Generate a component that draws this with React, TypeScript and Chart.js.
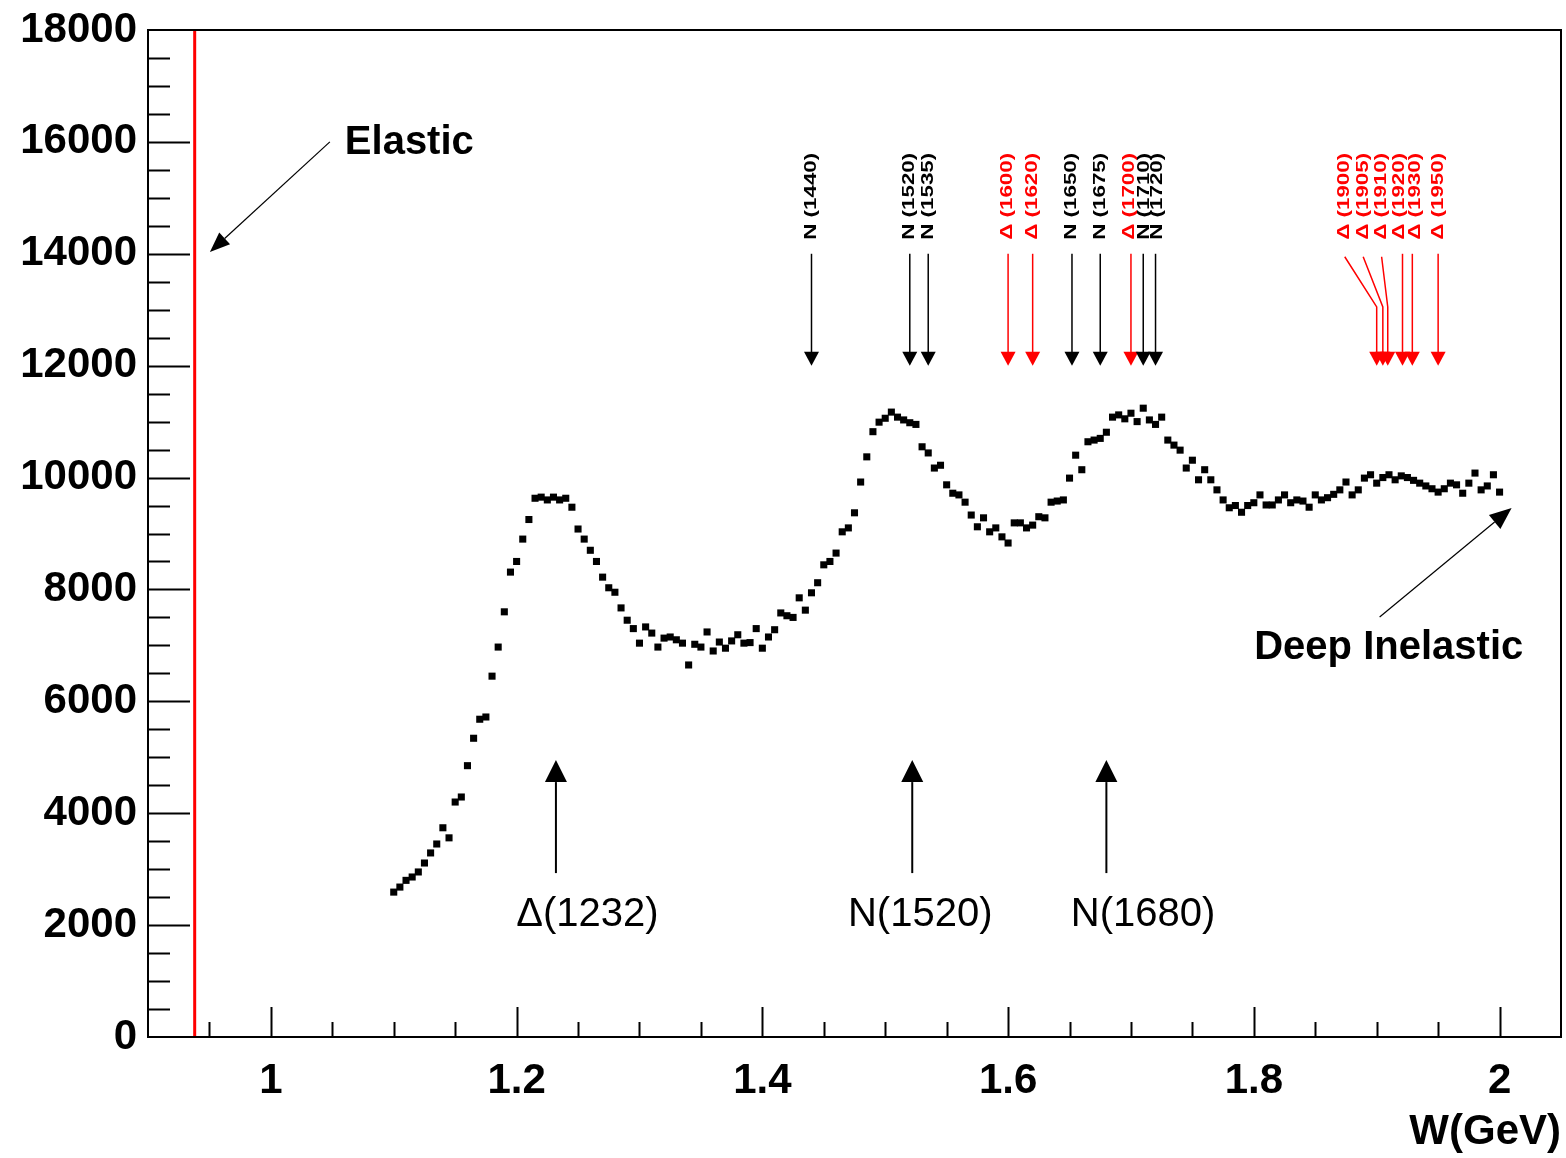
import React, { useEffect, useRef } from "react";
import { Chart, registerables } from "chart.js";

Chart.register(...registerables);

const W_GEV = [
  1.100, 1.105, 1.110, 1.115, 1.120, 1.125, 1.130, 1.135, 1.140, 1.145,
  1.150, 1.155, 1.160, 1.165, 1.170, 1.175, 1.180, 1.185, 1.190, 1.195,
  1.200, 1.205, 1.210, 1.215, 1.220, 1.225, 1.230, 1.235, 1.240, 1.245,
  1.250, 1.255, 1.260, 1.265, 1.270, 1.275, 1.280, 1.285, 1.290, 1.295,
  1.300, 1.305, 1.310, 1.315, 1.320, 1.325, 1.330, 1.335, 1.340, 1.345,
  1.350, 1.355, 1.360, 1.365, 1.370, 1.375, 1.380, 1.385, 1.390, 1.395,
  1.400, 1.405, 1.410, 1.415, 1.420, 1.425, 1.430, 1.435, 1.440, 1.445,
  1.450, 1.455, 1.460, 1.465, 1.470, 1.475, 1.480, 1.485, 1.490, 1.495,
  1.500, 1.505, 1.510, 1.515, 1.520, 1.525, 1.530, 1.535, 1.540, 1.545,
  1.550, 1.555, 1.560, 1.565, 1.570, 1.575, 1.580, 1.585, 1.590, 1.595,
  1.600, 1.605, 1.610, 1.615, 1.620, 1.625, 1.630, 1.635, 1.640, 1.645,
  1.650, 1.655, 1.660, 1.665, 1.670, 1.675, 1.680, 1.685, 1.690, 1.695,
  1.700, 1.705, 1.710, 1.715, 1.720, 1.725, 1.730, 1.735, 1.740, 1.745,
  1.750, 1.755, 1.760, 1.765, 1.770, 1.775, 1.780, 1.785, 1.790, 1.795,
  1.800, 1.805, 1.810, 1.815, 1.820, 1.825, 1.830, 1.835, 1.840, 1.845,
  1.850, 1.855, 1.860, 1.865, 1.870, 1.875, 1.880, 1.885, 1.890, 1.895,
  1.900, 1.905, 1.910, 1.915, 1.920, 1.925, 1.930, 1.935, 1.940, 1.945,
  1.950, 1.955, 1.960, 1.965, 1.970, 1.975, 1.980, 1.985, 1.990, 1.995,
  2.000,
];

const COUNTS = [
  2590, 2680, 2800, 2860, 2950, 3110, 3290, 3450, 3740, 3560,
  4200, 4290, 4850, 5340, 5680, 5720, 6450, 6970, 7600, 8310,
  8500, 8900, 9250, 9630, 9650, 9600, 9650, 9600, 9630, 9470,
  9080, 8900, 8700, 8500, 8220, 8030, 7950, 7670, 7450, 7300,
  7040, 7330, 7220, 6970, 7130, 7150, 7100, 7040, 6650, 7020,
  6970, 7240, 6900, 7060, 6950, 7080, 7190, 7040, 7050, 7300,
  6950, 7150, 7280, 7580, 7530, 7500, 7850, 7630, 7940, 8120,
  8440, 8500, 8650, 9030, 9100, 9370, 9920, 10370, 10820, 10990,
  11060, 11170, 11080, 11030, 10980, 10950, 10550, 10440, 10170, 10220,
  9870, 9720, 9690, 9560, 9330, 9120, 9280, 9030, 9100, 8940,
  8830, 9190, 9190, 9100, 9150, 9300, 9280, 9560, 9580, 9600,
  9990, 10400, 10140, 10640, 10670, 10700, 10810, 11080, 11120, 11050,
  11150, 11000, 11240, 11030, 10950, 11080, 10670, 10580, 10490, 10170,
  10310, 9960, 10140, 9960, 9780, 9600, 9460, 9500, 9380, 9500,
  9550, 9690, 9510, 9510, 9600, 9690, 9550, 9600, 9580, 9470,
  9690, 9600, 9640, 9700, 9780, 9920, 9690, 9780, 9990, 10050,
  9900, 10000, 10050, 9960, 10030, 10000, 9950, 9900, 9850, 9800,
  9740, 9800, 9900, 9870, 9720, 9900, 10080, 9780, 9850, 10050,
  9740,
];

const X_TICKS = [1, 1.2, 1.4, 1.6, 1.8, 2];
const Y_TICKS = [0, 2000, 4000, 6000, 8000, 10000, 12000, 14000, 16000, 18000];

const ELASTIC_W = 0.938;

const RES_NAMES = [
  "N (1440)", "N (1520)", "N (1535)", "\u0394 (1600)", "\u0394 (1620)",
  "N (1650)", "N (1675)", "\u0394 (1700)", "N (1710)", "N (1720)",
  "\u0394 (1900)", "\u0394 (1905)", "\u0394 (1910)", "\u0394 (1920)", "\u0394 (1930)", "\u0394 (1950)",
];
const RES_W = [1.44, 1.52, 1.535, 1.60, 1.62, 1.652, 1.675, 1.70, 1.71, 1.72, 1.90, 1.905, 1.909, 1.921, 1.929, 1.95];
const RES_LABEL_W = [1.44, 1.52, 1.535, 1.60, 1.62, 1.652, 1.675, 1.699, 1.7115, 1.7215, 1.874, 1.889, 1.904, 1.919, 1.932, 1.95];
const RES_IS_DELTA = [false, false, false, true, true, false, false, true, false, false, true, true, true, true, true, true];

const MAIN_NAMES = ["\u0394(1232)", "N(1520)", "N(1680)"];
const MAIN_W = [1.232, 1.522, 1.68];
const MAIN_LABEL_W = [1.2577, 1.5285, 1.7098];

const FONT = '"Liberation Sans", Arial, Helvetica, sans-serif';

function arrow(ctx: CanvasRenderingContext2D, x1: number, y1: number, x2: number, y2: number,
  headLen: number, headW: number, lw: number, color: string) {
  const ang = Math.atan2(y2 - y1, x2 - x1);
  const bx = x2 - Math.cos(ang) * headLen;
  const by = y2 - Math.sin(ang) * headLen;
  ctx.save();
  ctx.strokeStyle = color;
  ctx.fillStyle = color;
  ctx.lineWidth = lw;
  ctx.beginPath();
  ctx.moveTo(x1, y1);
  ctx.lineTo(bx, by);
  ctx.stroke();
  const px = -Math.sin(ang) * headW / 2;
  const py = Math.cos(ang) * headW / 2;
  ctx.beginPath();
  ctx.moveTo(x2, y2);
  ctx.lineTo(bx + px, by + py);
  ctx.lineTo(bx - px, by - py);
  ctx.closePath();
  ctx.fill();
  ctx.restore();
}

const annotate = {
  id: "annotate",
  beforeDatasetsDraw(chart: any) {
    const { ctx, chartArea: a, scales } = chart;
    const x = scales.x.getPixelForValue(ELASTIC_W);
    ctx.save();
    ctx.strokeStyle = "#ff0000";
    ctx.lineWidth = 3;
    ctx.beginPath();
    ctx.moveTo(x, a.top);
    ctx.lineTo(x, a.bottom);
    ctx.stroke();
    ctx.restore();
  },
  afterDatasetsDraw(chart: any) {
    const { ctx, chartArea: a, scales } = chart;
    const xs = scales.x;
    const ys = scales.y;
    ctx.save();
    // tick marks inside the frame
    ctx.strokeStyle = "#000";
    ctx.lineWidth = 2;
    ctx.beginPath();
    for (let v = 500; v < 18000; v += 500) {
      const y = Math.round(ys.getPixelForValue(v)) + 0.5;
      const len = v % 2000 === 0 ? 42 : 22;
      ctx.moveTo(a.left, y);
      ctx.lineTo(a.left + len, y);
    }
    for (let i = 19; i * 0.05 < 2.049; i++) {
      const v = i * 0.05;
      const x = Math.round(xs.getPixelForValue(v)) + 0.5;
      const len = i % 4 === 0 ? 30 : 15;
      ctx.moveTo(x, a.bottom);
      ctx.lineTo(x, a.bottom - len);
    }
    ctx.stroke();
    // frame
    ctx.lineWidth = 2;
    ctx.strokeRect(a.left, a.top, a.right - a.left, a.bottom - a.top);

    // small resonance arrows and rotated labels
    const yTop = ys.getPixelForValue(14000);
    const yKink = ys.getPixelForValue(13050);
    const yTip = ys.getPixelForValue(12000);
    const yLab = ys.getPixelForValue(14250);
    RES_NAMES.forEach((name, i) => {
      const color = RES_IS_DELTA[i] ? "#ff0000" : "#000000";
      const xa = xs.getPixelForValue(RES_W[i]);
      const xl = xs.getPixelForValue(RES_LABEL_W[i]);
      const bent = Math.abs(xl - xa) > 4;
      ctx.strokeStyle = color;
      ctx.fillStyle = color;
      ctx.lineWidth = 1.5;
      ctx.beginPath();
      if (bent) {
        ctx.moveTo(xl, yTop + 3);
        ctx.lineTo(xa, yKink);
      } else {
        ctx.moveTo(xa, yTop);
      }
      ctx.lineTo(xa, yTip - 12);
      ctx.stroke();
      ctx.beginPath();
      ctx.moveTo(xa, yTip);
      ctx.lineTo(xa - 7.5, yTip - 14);
      ctx.lineTo(xa + 7.5, yTip - 14);
      ctx.closePath();
      ctx.fill();
      ctx.save();
      ctx.translate(xl, yLab);
      ctx.rotate(-Math.PI / 2);
      ctx.font = `bold 16px ${FONT}`;
      const w = ctx.measureText(name).width;
      ctx.scale(87 / w, 1);
      ctx.textAlign = "left";
      ctx.textBaseline = "middle";
      ctx.fillText(name, 0, 0);
      ctx.restore();
    });

    // main resonance arrows
    const yb = ys.getPixelForValue(2930);
    const yt = ys.getPixelForValue(4950);
    const yl = ys.getPixelForValue(2180);
    ctx.font = `40px ${FONT}`;
    ctx.textAlign = "center";
    ctx.textBaseline = "middle";
    MAIN_NAMES.forEach((name, i) => {
      const x = xs.getPixelForValue(MAIN_W[i]);
      arrow(ctx, x, yb, x, yt, 22, 22, 2, "#000");
      ctx.fillStyle = "#000";
      ctx.fillText(name, xs.getPixelForValue(MAIN_LABEL_W[i]), yl);
    });

    // Elastic
    arrow(ctx, xs.getPixelForValue(1.048), ys.getPixelForValue(16000),
      xs.getPixelForValue(0.9504), ys.getPixelForValue(14032), 20, 16, 1.2, "#000");
    ctx.font = `bold 40px ${FONT}`;
    ctx.fillStyle = "#000";
    ctx.textAlign = "left";
    ctx.textBaseline = "middle";
    ctx.fillText("Elastic", xs.getPixelForValue(1.0602), ys.getPixelForValue(15980));

    // Deep Inelastic
    arrow(ctx, xs.getPixelForValue(1.9024), ys.getPixelForValue(7508),
      xs.getPixelForValue(2.0098), ys.getPixelForValue(9456), 22, 18, 1.2, "#000");
    ctx.textAlign = "center";
    ctx.fillText("Deep Inelastic", xs.getPixelForValue(1.9098), ys.getPixelForValue(6953));
    ctx.restore();
  },
};

export default function App() {
  const ref = useRef<HTMLCanvasElement | null>(null);
  useEffect(() => {
    document.body.style.margin = "0";
    if (!ref.current) return;
    const chart = new Chart(ref.current, {
      type: "scatter",
      data: {
        datasets: [
          {
            data: W_GEV.map((w, i) => ({ x: w, y: COUNTS[i] })),
            showLine: false,
            pointStyle: "rect",
            pointRadius: 5,
            pointHoverRadius: 5,
            backgroundColor: "#000",
            borderColor: "#000",
            borderWidth: 0,
          },
        ],
      },
      options: {
        animation: false,
        responsive: false,
        devicePixelRatio: 1,
        events: [],
        layout: { padding: { top: 30, right: 4, left: 0, bottom: 0 } },
        plugins: { legend: { display: false }, tooltip: { enabled: false } },
        scales: {
          x: {
            type: "linear",
            min: 0.9,
            max: 2.05,
            afterBuildTicks: (s: any) => {
              s.ticks = X_TICKS.map((v) => ({ value: v }));
            },
            afterFit: (s: any) => {
              s.height = 121;
            },
            grid: { display: false, drawTicks: false },
            border: { display: false },
            ticks: {
              color: "#000",
              padding: 19,
              maxRotation: 0,
              autoSkip: false,
              font: { family: FONT, size: 42, weight: "bold" },
              callback: (v: any) => String(v),
            },
            title: {
              display: true,
              text: "W(GeV)",
              align: "end",
              color: "#000",
              padding: 0,
              font: { family: FONT, size: 42, weight: "bold" },
            },
          },
          y: {
            type: "linear",
            min: 0,
            max: 18000,
            afterBuildTicks: (s: any) => {
              s.ticks = Y_TICKS.map((v) => ({ value: v }));
            },
            afterFit: (s: any) => {
              s.width = 148;
            },
            grid: { display: false, drawTicks: false },
            border: { display: false },
            ticks: {
              color: "#000",
              padding: 11,
              autoSkip: false,
              font: { family: FONT, size: 42, weight: "bold", lineHeight: 0.8 },
              callback: (v: any) => String(v),
            },
          },
        },
      },
      plugins: [annotate],
    });
    return () => chart.destroy();
  }, []);
  return (
    <div style={{ width: 1566, height: 1158 }}>
      <canvas ref={ref} width={1566} height={1158} style={{ display: "block" }} />
    </div>
  );
}
